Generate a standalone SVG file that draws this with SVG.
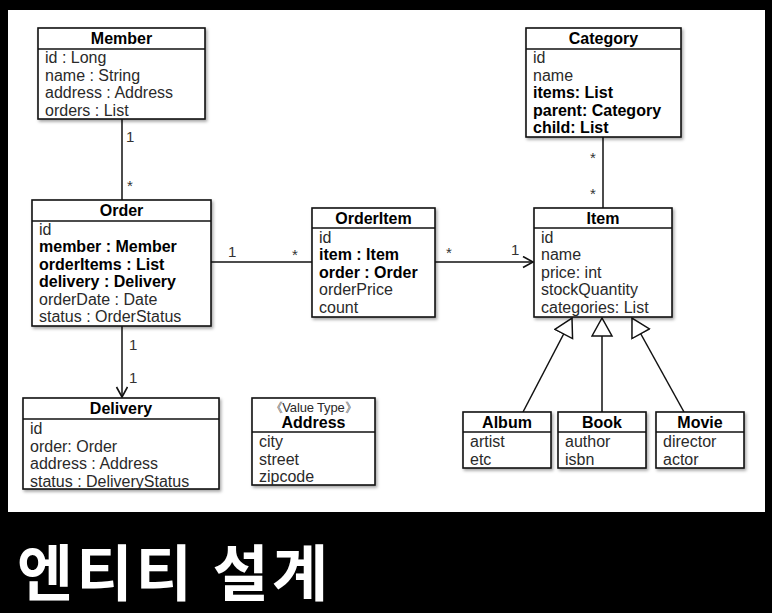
<svg xmlns="http://www.w3.org/2000/svg" width="772" height="613" viewBox="0 0 772 613">
<defs>
<filter id="sh" x="-10%" y="-10%" width="130%" height="130%"><feDropShadow dx="1.5" dy="2" stdDeviation="1.5" flood-color="#000" flood-opacity="0.35"/></filter>
<marker id="arr" markerUnits="userSpaceOnUse" markerWidth="14" markerHeight="14" refX="11" refY="6" orient="auto"><path d="M1,0.5 L11,6 L1,11.5" fill="none" stroke="#111" stroke-width="1.6"/></marker>
<marker id="tri" markerUnits="userSpaceOnUse" markerWidth="22" markerHeight="24" refX="19" refY="11" orient="auto"><path d="M1,1 L19,11 L1,21 Z" fill="#fff" stroke="#111" stroke-width="1.5"/></marker>
</defs>
<style>
.box{fill:#fff;stroke:#111;stroke-width:1.6}
.hl{stroke:#111;stroke-width:1.6}
text{font-family:"Liberation Sans",Arial,sans-serif;font-size:16px;fill:#2a2a2a}
.t{font-weight:bold;fill:#000;text-anchor:middle}
.b{font-weight:bold;fill:#000}
.st{font-size:13px;text-anchor:middle}
.m{font-size:15px;fill:#333}
.c{stroke:#111;stroke-width:1.5;fill:none}
</style>
<rect x="0" y="0" width="772" height="613" fill="#000"/>
<rect x="8" y="10" width="757" height="502" fill="#fff"/>
<g id="connectors">
<line class="c" x1="122" y1="119" x2="122" y2="200"/>
<line class="c" x1="211" y1="262" x2="312" y2="262"/>
<line class="c" x1="435" y1="262" x2="533" y2="262" marker-end="url(#arr)"/>
<line class="c" x1="603" y1="137" x2="603" y2="208"/>
<line class="c" x1="122" y1="326" x2="122" y2="397" marker-end="url(#arr)"/>
<line class="c" x1="523" y1="412" x2="572" y2="318" marker-end="url(#tri)"/>
<line class="c" x1="602" y1="412" x2="602" y2="318" marker-end="url(#tri)"/>
<line class="c" x1="684" y1="412" x2="632" y2="318" marker-end="url(#tri)"/>
<text class="m" x="126" y="142">1</text>
<text class="m" x="127" y="191">*</text>
<text class="m" x="228" y="257">1</text>
<text class="m" x="292" y="260">*</text>
<text class="m" x="446" y="258">*</text>
<text class="m" x="511" y="255">1</text>
<text class="m" x="590" y="163">*</text>
<text class="m" x="590" y="199">*</text>
<text class="m" x="129" y="350">1</text>
<text class="m" x="129" y="383">1</text>
</g>
<g id="member">
<rect class="box" x="38" y="28" width="167" height="91" filter="url(#sh)"/>
<line class="hl" x1="38" y1="49" x2="205" y2="49"/>
<text class="t" x="121.5" y="44">Member</text>
<text x="45" y="63">id : Long</text>
<text x="45" y="80.5">name : String</text>
<text x="45" y="98">address : Address</text>
<text x="45" y="115.5">orders : List</text>
</g>
<g id="category">
<rect class="box" x="526" y="28" width="155" height="109" filter="url(#sh)"/>
<line class="hl" x1="526" y1="49" x2="681" y2="49"/>
<text class="t" x="603.5" y="44">Category</text>
<text x="533" y="63">id</text>
<text x="533" y="80.5">name</text>
<text class="b" x="533" y="98">items: List</text>
<text class="b" x="533" y="115.5">parent: Category</text>
<text class="b" x="533" y="133">child: List</text>
</g>
<g id="order">
<rect class="box" x="32" y="200" width="179" height="126" filter="url(#sh)"/>
<line class="hl" x1="32" y1="221" x2="211" y2="221"/>
<text class="t" x="121.5" y="216">Order</text>
<text x="39" y="234.5">id</text>
<text class="b" x="39" y="252">member : Member</text>
<text class="b" x="39" y="269.5">orderItems : List</text>
<text class="b" x="39" y="287">delivery : Delivery</text>
<text x="39" y="304.5">orderDate : Date</text>
<text x="39" y="322">status : OrderStatus</text>
</g>
<g id="orderitem">
<rect class="box" x="312" y="208" width="123" height="109" filter="url(#sh)"/>
<line class="hl" x1="312" y1="228" x2="435" y2="228"/>
<text class="t" x="373.5" y="224">OrderItem</text>
<text x="319" y="242.5">id</text>
<text class="b" x="319" y="260">item : Item</text>
<text class="b" x="319" y="277.5">order : Order</text>
<text x="319" y="295">orderPrice</text>
<text x="319" y="312.5">count</text>
</g>
<g id="item">
<rect class="box" x="534" y="208" width="138" height="109" filter="url(#sh)"/>
<line class="hl" x1="534" y1="228" x2="672" y2="228"/>
<text class="t" x="603" y="224">Item</text>
<text x="541" y="242.5">id</text>
<text x="541" y="260">name</text>
<text x="541" y="277.5">price: int</text>
<text x="541" y="295">stockQuantity</text>
<text x="541" y="312.5">categories: List</text>
</g>
<g id="delivery">
<rect class="box" x="23" y="398" width="196" height="91" filter="url(#sh)"/>
<line class="hl" x1="23" y1="419" x2="219" y2="419"/>
<text class="t" x="121" y="414">Delivery</text>
<text x="30" y="434">id</text>
<text x="30" y="451.5">order: Order</text>
<text x="30" y="469">address : Address</text>
<text x="30" y="486.5">status : DeliveryStatus</text>
</g>
<g id="address">
<rect class="box" x="252" y="398" width="123" height="87" filter="url(#sh)"/>
<line class="hl" x1="252" y1="432" x2="375" y2="432"/>
<text class="st" x="313.5" y="412" textLength="88" lengthAdjust="spacing">《Value Type》</text>
<text class="t" x="313.5" y="428">Address</text>
<text x="259" y="447">city</text>
<text x="259" y="464.5">street</text>
<text x="259" y="482">zipcode</text>
</g>
<g id="album">
<rect class="box" x="463" y="412" width="88" height="56" filter="url(#sh)"/>
<line class="hl" x1="463" y1="432" x2="551" y2="432"/>
<text class="t" x="507" y="428">Album</text>
<text x="470" y="447">artist</text>
<text x="470" y="464.5">etc</text>
</g>
<g id="book">
<rect class="box" x="558" y="412" width="88" height="56" filter="url(#sh)"/>
<line class="hl" x1="558" y1="432" x2="646" y2="432"/>
<text class="t" x="602" y="428">Book</text>
<text x="565" y="447">author</text>
<text x="565" y="464.5">isbn</text>
</g>
<g id="movie">
<rect class="box" x="656" y="412" width="88" height="56" filter="url(#sh)"/>
<line class="hl" x1="656" y1="432" x2="744" y2="432"/>
<text class="t" x="700" y="428">Movie</text>
<text x="663" y="447">director</text>
<text x="663" y="464.5">actor</text>
</g>
<text x="17" y="596" textLength="311" lengthAdjust="spacing" style="font-family:'Noto Sans CJK KR',sans-serif;font-size:61px;font-weight:bold;fill:#fff">엔티티 설계</text>
</svg>
